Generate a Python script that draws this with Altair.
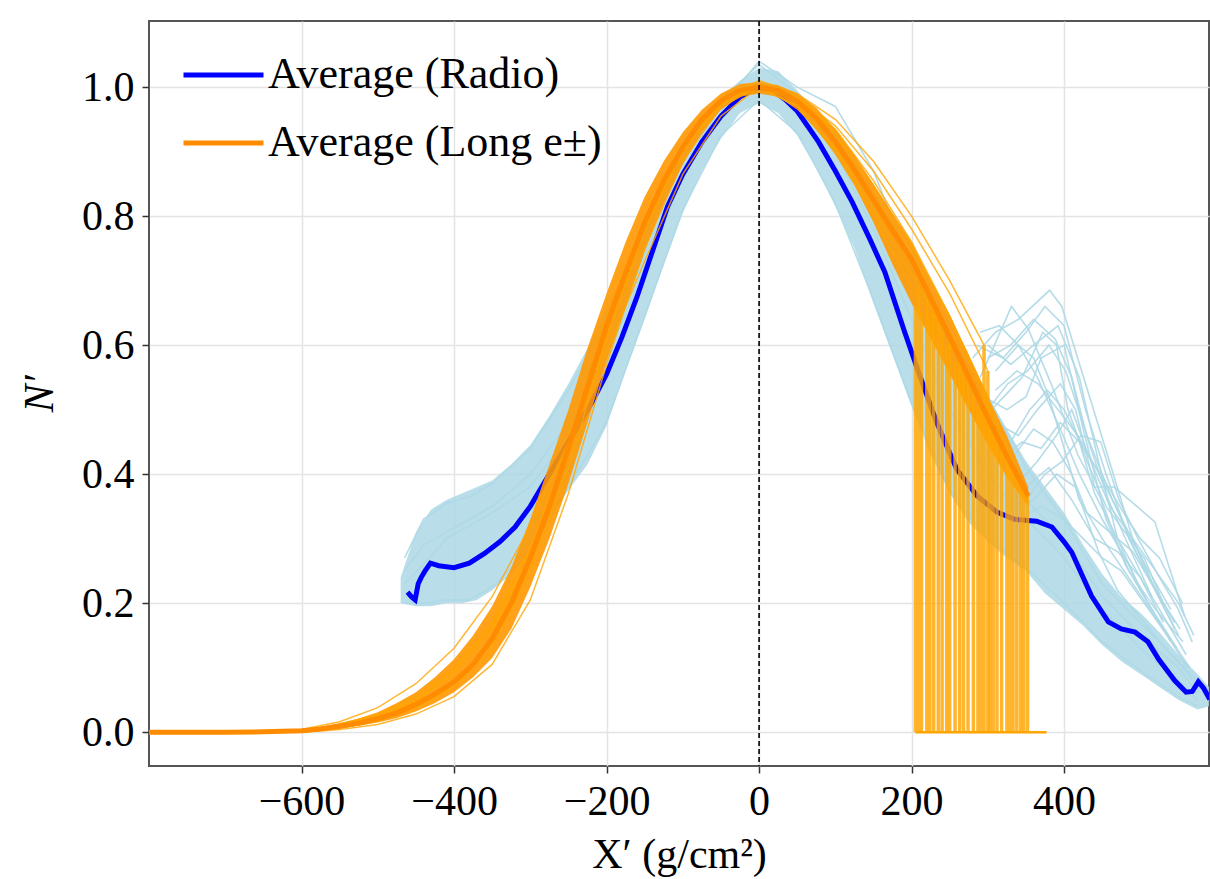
import altair as alt
import pandas as pd

# ---------------- data ----------------
# Average (Radio) profile
blue_avg_x = [-461, -456, -451, -447, -443, -438, -431, -420, -400, -380, -360, -340, -320, -300,
              -280, -260, -240, -220, -200, -180, -160, -140, -120, -100, -75, -50, -25, 0,
              20, 34, 50, 78, 100, 122, 145, 165, 191, 210, 233, 259, 286, 312, 335, 364,
              384, 400, 410, 436, 458, 475, 493, 510, 524, 545, 560, 568, 576, 583, 591]
blue_avg_y = [0.217, 0.21, 0.205, 0.23, 0.24, 0.25, 0.262, 0.258, 0.255, 0.262, 0.277, 0.295, 0.318, 0.35,
              0.39, 0.43, 0.47, 0.51, 0.555, 0.612, 0.675, 0.745, 0.815, 0.865, 0.915, 0.955, 0.985, 1.0,
              0.993, 0.981, 0.963, 0.915, 0.87, 0.822, 0.765, 0.713, 0.62, 0.555, 0.48, 0.408, 0.366, 0.341, 0.33, 0.327,
              0.318, 0.295, 0.279, 0.211, 0.171, 0.16, 0.155, 0.14, 0.113, 0.08, 0.062, 0.063, 0.078, 0.068, 0.051]

# Average (Long e±) profile and the envelope of the individual e± profiles
orange_x = [-800, -700, -650, -600, -575, -550, -525, -500, -475, -450, -425, -400, -375, -350,
            -325, -300, -275, -250, -225, -200, -175, -150, -125, -100, -75, -50, -25, 0,
            25, 50, 75, 100, 125, 150, 175, 200, 225, 250, 275, 300, 325, 353]
orange_avg = [0, 0, 0.0005, 0.002, 0.005, 0.009, 0.014, 0.021, 0.03, 0.043, 0.059, 0.078, 0.105, 0.145,
              0.2, 0.27, 0.35, 0.44, 0.535, 0.63, 0.712, 0.79, 0.855, 0.907, 0.95, 0.979, 0.995, 1.0,
              0.995, 0.978, 0.952, 0.915, 0.872, 0.825, 0.778, 0.733, 0.673, 0.612, 0.55, 0.487, 0.428, 0.366]
orange_lo = [0, 0, 0, 0.001, 0.003, 0.006, 0.01, 0.015, 0.022, 0.032, 0.045, 0.062, 0.085, 0.115,
             0.16, 0.225, 0.3, 0.385, 0.48, 0.575, 0.66, 0.745, 0.82, 0.88, 0.93, 0.965, 0.985, 0.99,
             0.985, 0.965, 0.935, 0.895, 0.848, 0.79, 0.725, 0.665, 0.61, 0.555, 0.5, 0.445, 0.395, 0.35]
orange_hi = [0, 0, 0.001, 0.004, 0.008, 0.014, 0.021, 0.031, 0.045, 0.062, 0.085, 0.113, 0.15, 0.195,
             0.255, 0.33, 0.415, 0.5, 0.595, 0.68, 0.76, 0.83, 0.885, 0.93, 0.965, 0.99, 1.005, 1.008,
             1.003, 0.99, 0.968, 0.935, 0.895, 0.85, 0.805, 0.76, 0.7, 0.645, 0.585, 0.52, 0.46, 0.38]

# a few individual e± profiles (outliers of the bundle)
orange_line_x = [
    [-800, -650, -600, -550, -500, -450, -400, -350, -300, -250, -200, -150, -100, -50, 0, 50, 100, 150, 200, 250, 300],
    [-800, -650, -600, -550, -500, -450, -400, -350, -300, -250, -200, -150, -100, -50, 0, 50, 100, 150, 200, 240],
    [-800, -650, -600, -550, -500, -450, -400, -350, -300, -250, -200, -150, -100, -50, 0, 50, 100, 150, 200, 250, 300, 338],
    [-800, -650, -600, -550, -500, -450, -400, -350, -300, -250, -200, -150, -100, -50, 0, 50, 100, 150, 200, 263],
    [-800, -650, -600, -550, -500, -450, -400, -350, -300, -250, -200, -150, -100, -50, 0, 50, 100, 150, 200, 250, 300, 325],
    [-800, -650, -600, -550, -500, -450, -400, -350, -300, -250, -200, -150, -100, -50, 0, 50, 100, 150, 200, 250, 295],
]
orange_line_y = [
    [0, 0, 0.004, 0.016, 0.038, 0.075, 0.13, 0.21, 0.32, 0.45, 0.59, 0.73, 0.865, 0.955, 1.0, 0.985, 0.94, 0.87, 0.78, 0.68, 0.56],
    [0, 0, 0.001, 0.006, 0.017, 0.037, 0.07, 0.13, 0.25, 0.41, 0.61, 0.78, 0.9, 0.975, 1.0, 0.97, 0.9, 0.8, 0.69, 0.62],
    [0, 0, 0.003, 0.012, 0.028, 0.055, 0.1, 0.17, 0.285, 0.445, 0.64, 0.795, 0.91, 0.98, 1.0, 0.985, 0.93, 0.845, 0.755, 0.645, 0.52, 0.4],
    [0, 0, 0.0, 0.004, 0.012, 0.028, 0.055, 0.105, 0.205, 0.37, 0.57, 0.75, 0.885, 0.97, 1.0, 0.97, 0.905, 0.81, 0.71, 0.58],
    [0, 0, 0.002, 0.009, 0.022, 0.048, 0.09, 0.16, 0.27, 0.43, 0.62, 0.785, 0.9, 0.975, 1.0, 0.98, 0.935, 0.855, 0.76, 0.645, 0.51, 0.43],
    [0, 0, 0.002, 0.01, 0.025, 0.05, 0.095, 0.165, 0.28, 0.44, 0.63, 0.79, 0.91, 0.98, 1.01, 0.99, 0.95, 0.885, 0.8, 0.7, 0.6],
]

# end points of the individual e± profiles (each drops to zero there)
drop_x = [205, 209, 213, 220, 224, 229, 235, 240, 246, 250, 257, 263, 268, 274, 281,
          287, 291, 295, 300, 303, 307, 312, 318, 325, 329, 333, 338, 343, 347, 352]
drop_top = [0.66, 0.69, 0.65, 0.675, 0.64, 0.66, 0.635, 0.62, 0.6, 0.605, 0.575, 0.58, 0.555, 0.545, 0.525,
            0.505, 0.51, 0.6, 0.56, 0.47, 0.465, 0.45, 0.435, 0.43, 0.415, 0.405, 0.4, 0.385, 0.375, 0.366]
zero_tail_x = [205, 377]
zero_tail_y = [0, 0]

# envelope of the individual radio profiles
radio_x = [-470, -450, -430, -410, -390, -370, -350, -325, -300, -275, -250, -225, -200, -175, -150,
           -125, -100, -75, -50, -25, 0, 25, 50, 75, 100, 125, 150, 175, 200, 225, 250, 275, 300,
           325, 350, 375, 400, 425, 450, 475, 500, 525, 550, 575, 590]
radio_lo = [0.2, 0.195, 0.195, 0.2, 0.2, 0.205, 0.22, 0.245, 0.28, 0.33, 0.375, 0.415, 0.475, 0.56, 0.64,
            0.725, 0.805, 0.87, 0.92, 0.96, 0.975, 0.96, 0.925, 0.875, 0.815, 0.75, 0.665, 0.585, 0.505,
            0.43, 0.37, 0.325, 0.295, 0.27, 0.25, 0.215, 0.19, 0.165, 0.135, 0.11, 0.09, 0.07, 0.05, 0.035, 0.04]
radio_hi = [0.24, 0.31, 0.345, 0.36, 0.37, 0.38, 0.39, 0.415, 0.445, 0.49, 0.54, 0.595, 0.655, 0.72, 0.785,
            0.85, 0.905, 0.95, 0.985, 1.01, 1.03, 1.025, 0.995, 0.96, 0.925, 0.885, 0.84, 0.79, 0.74,
            0.685, 0.625, 0.57, 0.52, 0.47, 0.42, 0.38, 0.34, 0.29, 0.245, 0.21, 0.185, 0.155, 0.12, 0.09, 0.07]

# some individual radio profiles across the whole range
core_x = [-465, -440, -410, -380, -350, -300, -250, -200, -150, -100, -50, 0, 50, 100, 150, 200,
          250, 300, 350, 400, 450, 500, 550, 575]
core_y = [
    [0.27, 0.33, 0.355, 0.365, 0.385, 0.44, 0.53, 0.64, 0.775, 0.9, 0.98, 1.035, 0.99, 0.93, 0.845, 0.75, 0.63, 0.52, 0.41, 0.33, 0.23, 0.17, 0.11, 0.07],
    [0.2, 0.2, 0.205, 0.205, 0.225, 0.285, 0.38, 0.48, 0.645, 0.81, 0.925, 0.98, 0.93, 0.82, 0.67, 0.51, 0.375, 0.3, 0.255, 0.2, 0.14, 0.095, 0.055, 0.04],
    [0.23, 0.26, 0.3, 0.32, 0.34, 0.38, 0.46, 0.58, 0.72, 0.86, 0.955, 1.01, 0.97, 0.9, 0.78, 0.64, 0.5, 0.4, 0.33, 0.27, 0.19, 0.13, 0.08, 0.05],
    [0.25, 0.29, 0.31, 0.33, 0.35, 0.4, 0.48, 0.6, 0.74, 0.87, 0.97, 1.04, 1.0, 0.97, 0.87, 0.72, 0.57, 0.45, 0.36, 0.3, 0.21, 0.15, 0.1, 0.06],
]

# radio profiles with late secondary maxima
spike_x = [
    [280, 310, 340, 381, 397, 436, 462, 490, 520, 550],
    [290, 331, 353, 383, 418, 449, 480, 510, 540],
    [300, 330, 360, 392, 420, 445, 470, 500, 535],
    [295, 325, 350, 370, 400, 425, 455, 485, 520, 556],
    [310, 340, 365, 395, 415, 440, 466, 519, 558],
    [300, 335, 360, 385, 410, 430, 460, 490, 520, 545],
    [305, 345, 372, 390, 405, 430, 455, 480, 505, 530],
    [320, 350, 380, 410, 440, 470, 500, 530, 560],
    [310, 340, 360, 380, 400, 420, 450, 490, 530, 565],
    [330, 360, 390, 415, 445, 470, 505, 540, 575],
    [290, 315, 340, 365, 395, 420, 450, 480, 510, 548],
    [325, 355, 378, 400, 425, 448, 478, 500, 525, 555],
    [285, 320, 350, 375, 400, 428, 455, 485, 515, 545],
    [300, 326, 352, 380, 402, 430, 460, 490, 525, 552],
    [315, 345, 370, 395, 420, 440, 470, 500, 530],
    [335, 365, 390, 410, 435, 460, 490, 520, 550, 570],
    [300, 330, 360, 388, 410, 432, 458, 488, 515],
    [340, 370, 400, 425, 450, 475, 505, 535, 562],
    [310, 338, 366, 392, 418, 446, 476, 506, 540],
    [350, 375, 398, 422, 448, 472, 497, 525, 550, 568],
]
spike_y = [
    [0.58, 0.62, 0.64, 0.685, 0.66, 0.51, 0.41, 0.3, 0.22, 0.15],
    [0.55, 0.66, 0.625, 0.54, 0.43, 0.36, 0.26, 0.2, 0.14],
    [0.6, 0.57, 0.6, 0.63, 0.55, 0.42, 0.3, 0.22, 0.15],
    [0.52, 0.5, 0.52, 0.58, 0.6, 0.47, 0.33, 0.25, 0.19, 0.14],
    [0.48, 0.46, 0.5, 0.54, 0.5, 0.38, 0.38, 0.326, 0.18],
    [0.45, 0.43, 0.47, 0.45, 0.4, 0.34, 0.31, 0.28, 0.22, 0.17],
    [0.5, 0.55, 0.62, 0.6, 0.5, 0.42, 0.35, 0.31, 0.27, 0.2],
    [0.4, 0.38, 0.41, 0.36, 0.3, 0.28, 0.24, 0.18, 0.12],
    [0.56, 0.6, 0.58, 0.52, 0.44, 0.36, 0.3, 0.23, 0.16, 0.1],
    [0.35, 0.36, 0.4, 0.38, 0.28, 0.22, 0.17, 0.12, 0.08],
    [0.62, 0.63, 0.6, 0.55, 0.47, 0.4, 0.33, 0.27, 0.2, 0.13],
    [0.44, 0.5, 0.53, 0.5, 0.44, 0.4, 0.34, 0.3, 0.27, 0.2],
    [0.6, 0.58, 0.62, 0.66, 0.63, 0.5, 0.4, 0.3, 0.23, 0.16],
    [0.5, 0.54, 0.56, 0.6, 0.56, 0.46, 0.37, 0.29, 0.21, 0.16],
    [0.42, 0.45, 0.44, 0.48, 0.45, 0.37, 0.3, 0.24, 0.17],
    [0.38, 0.42, 0.46, 0.5, 0.42, 0.35, 0.3, 0.25, 0.2, 0.15],
    [0.58, 0.6, 0.64, 0.61, 0.55, 0.45, 0.36, 0.28, 0.21],
    [0.33, 0.35, 0.33, 0.3, 0.27, 0.25, 0.2, 0.15, 0.1],
    [0.53, 0.56, 0.54, 0.5, 0.46, 0.4, 0.33, 0.26, 0.19],
    [0.36, 0.4, 0.42, 0.46, 0.45, 0.36, 0.3, 0.24, 0.19, 0.14],
]

x_ticks = [-600, -400, -200, 0, 200, 400]
y_ticks = [0.0, 0.2, 0.4, 0.6, 0.8, 1.0]
series_names = ["Average (Radio)", "Average (Long e\u00b1)"]
series_colors = ["#0000ff", "#ff8c00"]

# ---------------- tables ----------------
blue_avg_df = pd.DataFrame({"x": blue_avg_x, "y": blue_avg_y, "series": series_names[0]})
orange_avg_df = pd.DataFrame({"x": orange_x, "y": orange_avg, "series": series_names[1]})
orange_band_df = pd.DataFrame({"x": orange_x, "lo": orange_lo, "hi": orange_hi})
radio_band_df = pd.DataFrame({"x": radio_x, "lo": radio_lo, "hi": radio_hi})

rows = []
for i, (xs, ys) in enumerate(zip(orange_line_x, orange_line_y)):
    rows += [{"x": a, "y": b, "id": i} for a, b in zip(xs, ys)]
orange_lines_df = pd.DataFrame(rows)

rows = []
for i, ys in enumerate(core_y):
    rows += [{"x": a, "y": b, "id": "c%d" % i} for a, b in zip(core_x, ys)]
for i, (xs, ys) in enumerate(zip(spike_x, spike_y)):
    rows += [{"x": a, "y": b, "id": "s%d" % i} for a, b in zip(xs, ys)]
radio_lines_df = pd.DataFrame(rows)

drops_df = pd.DataFrame({"x": drop_x, "y": [0.0] * len(drop_x), "top": drop_top})
tail_df = pd.DataFrame({"x": zero_tail_x, "y": zero_tail_y})
zero_df = pd.DataFrame({"x": [0]})

# ---------------- encodings ----------------
FONT = "Liberation Serif"
xscale = alt.Scale(domain=[-800, 590], nice=False, zero=False)
yscale = alt.Scale(domain=[-0.0525, 1.1025], nice=False, zero=False)
X = alt.X("x:Q", scale=xscale,
          axis=alt.Axis(values=x_ticks, title="X\u2032 (g/cm\u00b2)", titlePadding=12))
Y = alt.Y("y:Q", scale=yscale,
          axis=alt.Axis(values=y_ticks, format=".1f", title="N\u2032", titleFontStyle="italic",
                        titlePadding=20))
color = alt.Color("series:N",
                  scale=alt.Scale(domain=series_names, range=series_colors),
                  legend=alt.Legend(title=None, orient="none", legendX=32, legendY=20,
                                    symbolType="stroke", symbolSize=6400, symbolStrokeWidth=5,
                                    labelFont=FONT, labelFontSize=44, labelColor="black",
                                    labelLimit=0, clipHeight=68, rowPadding=0, padding=0,
                                    labelOffset=2))

radio_band = alt.Chart(radio_band_df).mark_area(color="#add8e6", opacity=0.85, clip=True).encode(
    x=X, y=alt.Y("lo:Q", scale=yscale), y2="hi:Q")
radio_lines = alt.Chart(radio_lines_df).mark_line(color="#add8e6", strokeWidth=1.6, opacity=0.9,
                                                  clip=True).encode(x=X, y=Y, detail="id:N")
blue_avg = alt.Chart(blue_avg_df).mark_line(strokeWidth=5, clip=True).encode(x=X, y=Y, color=color)
orange_band = alt.Chart(orange_band_df).mark_area(color="#ff9800", opacity=0.9, clip=True).encode(
    x=X, y=alt.Y("lo:Q", scale=yscale), y2="hi:Q")
orange_lines = alt.Chart(orange_lines_df).mark_line(color="#ffa500", strokeWidth=1.5, opacity=0.8,
                                                    clip=True).encode(x=X, y=Y, detail="id:N")
drops = alt.Chart(drops_df).mark_rule(color="#ffa500", strokeWidth=3.5, opacity=0.82).encode(
    x=X, y=Y, y2="top:Q")
tail = alt.Chart(tail_df).mark_line(color="#ffa500", strokeWidth=2.5).encode(x=X, y=Y)
orange_avg = alt.Chart(orange_avg_df).mark_line(strokeWidth=5, clip=True).encode(x=X, y=Y, color=color)
zero_rule = alt.Chart(zero_df).mark_rule(color="black", strokeDash=[5, 3], strokeWidth=1.6).encode(
    x=alt.X("x:Q", scale=xscale))

chart = alt.layer(
    radio_band, radio_lines, blue_avg, orange_band, orange_lines, drops, tail, orange_avg, zero_rule
).properties(
    width=1060, height=745,
    autosize=alt.AutoSizeParams(type="none"),
    padding={"left": 149, "top": 21, "right": 1, "bottom": 113},
).configure_view(
    stroke="#555555", strokeWidth=2
).configure_axis(
    domain=False, grid=True, gridColor="#e4e4e4", gridWidth=1.5,
    ticks=True, tickColor="#333333", tickSize=7, tickWidth=1.5,
    labelFont=FONT, labelFontSize=42, labelColor="black", labelPadding=8,
    titleFont=FONT, titleFontSize=42, titleFontWeight="normal", titleColor="black",
)

chart.save("out.html", embed_options={"renderer": "svg", "actions": False})
